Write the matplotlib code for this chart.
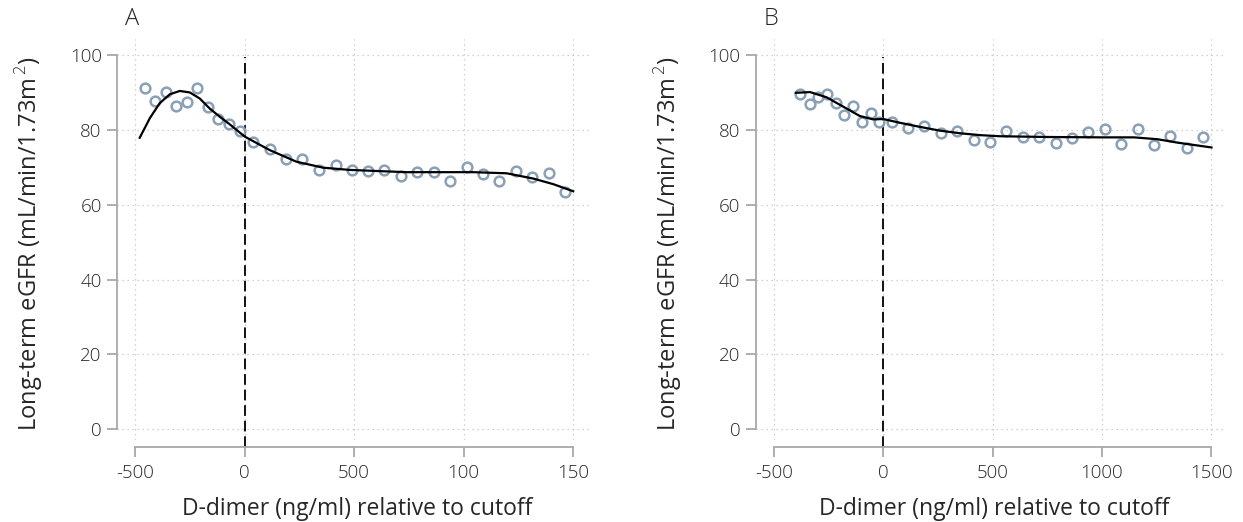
import matplotlib
matplotlib.use("Agg")
import matplotlib.pyplot as plt

plt.rcParams['font.family'] = ['Open Sans', 'DejaVu Sans']
plt.rcParams['font.weight'] = 'light'
plt.rcParams['mathtext.fontset'] = 'custom'
plt.rcParams['mathtext.rm'] = 'Open Sans'

# binned means, panel A
xa = [-454, -408, -361, -312, -264, -216, -169, -122, -73, -23,
      38, 114, 187, 262, 338, 415, 488, 561, 637, 712,
      788, 864, 939, 1014, 1088, 1164, 1239, 1314, 1389, 1463]
ya = [91.1, 87.7, 90.0, 86.4, 87.5, 91.1, 86.1, 82.9, 81.7, 79.7,
      76.8, 74.8, 72.1, 72.1, 69.3, 70.6, 69.4, 69.0, 69.2, 67.6,
      68.7, 68.7, 66.4, 70.1, 68.2, 66.4, 69.0, 67.5, 68.6, 63.5]

# fitted curve, panel A
fxa = [-480, -434, -389, -343, -297, -251, -206, -160, -114, -69,
       0, 114, 236, 358, 480, 739, 1044, 1197, 1318, 1410, 1501]
fya = [77.9, 83.1, 87.1, 89.5, 90.4, 90.0, 88.4, 85.7, 83.5, 81.5,
       78.2, 74.6, 71.5, 69.9, 69.3, 68.7, 68.7, 68.4, 67.0, 65.5, 63.6]

# binned means, panel B
xb = [-379, -337, -299, -259, -217, -178, -138, -98, -58, -18,
      40, 112, 188, 263, 339, 413, 487, 561, 638, 712,
      789, 863, 938, 1013, 1089, 1164, 1237, 1313, 1389, 1464]
yb = [89.6, 86.8, 88.9, 89.6, 87.1, 83.9, 86.5, 82.0, 84.6, 82.0,
      82.0, 80.4, 81.0, 79.2, 79.8, 77.2, 76.7, 79.8, 78.1, 78.0,
      76.6, 77.7, 79.3, 80.2, 76.1, 80.2, 75.9, 78.3, 75.1, 78.0]

# fitted curve, panel B
fxb = [-400, -335, -259, -183, -107, -46, 0, 76, 168, 259,
       351, 442, 534, 750, 1000, 1148, 1255, 1346, 1502]
fyb = [89.9, 90.1, 88.7, 86.2, 83.7, 82.8, 82.9, 81.9, 80.8, 79.8,
       79.1, 78.6, 78.3, 78.1, 78.0, 78.0, 77.5, 76.6, 75.3]

xticks = [-500, 0, 500, 1000, 1500]
xticklabels_a = ['-500', '0', '500', '100', '150']
xticklabels_b = ['-500', '0', '500', '1000', '1500']
yticks = [0, 20, 40, 60, 80, 100]
cutoff = 0

ylabel = 'Long-term eGFR (mL/min/1.73m$^{\\,2}$)'
xlabel = 'D-dimer (ng/ml) relative to cutoff'

grid_c = '#c4c4c4'
spine_c = '#a8a8a8'
text_c = '#262626'
pt_c = '#8aa0b6'

fig = plt.figure(figsize=(12.43, 5.22), dpi=100)
ax1 = fig.add_axes([0.0941, 0.1571, 0.3797, 0.7676])
ax2 = fig.add_axes([0.6079, 0.1571, 0.3773, 0.7676])

panels = [
    (ax1, xa, ya, fxa, fya, xticklabels_a, 'A', (-584, 1573)),
    (ax2, xb, yb, fxb, fyb, xticklabels_b, 'B', (-584, 1562)),
]

for ax, x, y, fx, fy, xtl, letter, xlim in panels:
    ax.set_xlim(*xlim)
    ax.set_ylim(-2.86, 104.2)

    ax.set_xticks(xticks)
    ax.set_xticklabels(xtl)
    ax.set_yticks(yticks)
    ax.grid(True, color=grid_c, linestyle=(0, (1, 3)), linewidth=0.9)
    ax.set_axisbelow(True)

    for s in ['top', 'right']:
        ax.spines[s].set_visible(False)
    ax.spines['left'].set_bounds(0, 100)
    ax.spines['bottom'].set_bounds(-500, 1500)
    ax.spines['bottom'].set_position(('outward', 5))
    for s in ['left', 'bottom']:
        ax.spines[s].set_color(spine_c)
        ax.spines[s].set_linewidth(1.3)

    ax.tick_params(axis='both', colors=spine_c, length=7, width=1.3,
                   labelsize=13.5, labelcolor=text_c)
    ax.tick_params(axis='y', pad=4)
    ax.tick_params(axis='x', pad=5)

    ax.axvline(cutoff, ymin=-0.018, ymax=0.955, color='#111111',
               linestyle=(0, (5.5, 2.5)), linewidth=1.4, clip_on=False)

    ax.plot(x, y, 'o', mfc='none', mec=pt_c, ms=7, mew=1.8, zorder=3)
    ax.plot(fx, fy, color='black', linewidth=1.6, zorder=4)

    ax.set_xlabel(xlabel, fontsize=16.5, color=text_c)
    ax.xaxis.set_label_coords(0.508, -0.142)
    ax.set_ylabel(ylabel, fontsize=17, color=text_c)
    ax.yaxis.set_label_coords(-0.152, 0.49)

    ax.text(0.017, 1.036, letter, transform=ax.transAxes, fontsize=17,
            color=text_c, ha='left', va='baseline')

fig.savefig('out.png', dpi=100)
